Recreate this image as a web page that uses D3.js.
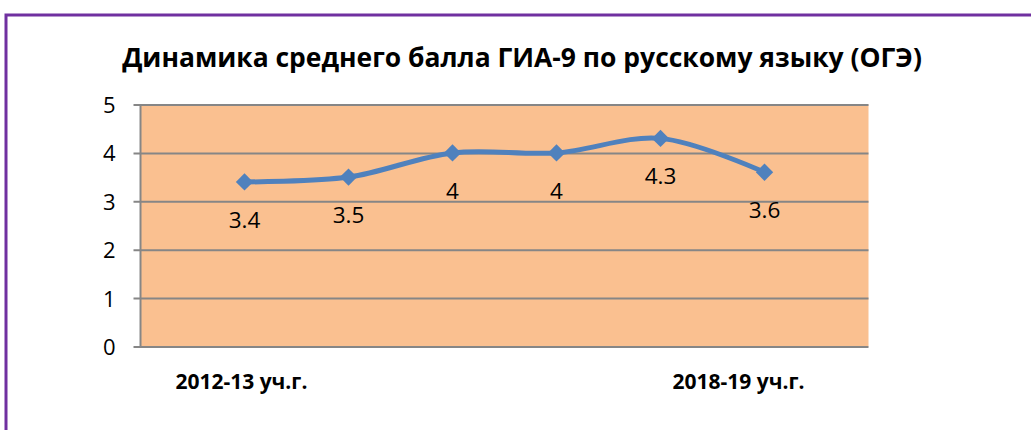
<!DOCTYPE html>
<html>
<head>
<meta charset="utf-8">
<script src="https://cdn.jsdelivr.net/npm/d3@7"></script>
<style>
  html, body { margin: 0; padding: 0; background: #ffffff; }
  svg { display: block; }
</style>
</head>
<body>
<svg id="chart" width="1031" height="430"></svg>
<script>
// ---- data ----
const title = "Динамика среднего балла ГИА-9 по русскому языку (ОГЭ)";
const years = ["2012-13", "2013-14", "2014-15", "2015-16", "2016-17", "2017-18"];
const scores = [3.4, 3.5, 4, 4, 4.3, 3.6];
const valueLabels = ["3.4", "3.5", "4", "4", "4.3", "3.6"];
const yTicks = [0, 1, 2, 3, 4, 5];
const axisLabels = ["2012-13 уч.г.", "2018-19 уч.г."];
const axisLabelSlots = [0.97, 5.75]; // slot positions along the category axis

// ---- layout ----
const svg = d3.select("#chart");
const plot = { left: 140.5, right: 868.5, top: 104.5, bottom: 346.5 };
const font = "'Open Sans', 'Noto Sans', sans-serif";

// outer purple frame (clipped by the window at right/bottom)
svg.append("rect")
  .attr("x", 6).attr("y", 15)
  .attr("width", 1100).attr("height", 600)
  .attr("fill", "none").attr("stroke", "#7030A0").attr("stroke-width", 3);

// scales
const x = d3.scaleLinear().domain([0, years.length + 1]).range([plot.left, plot.right]);
const y = d3.scaleLinear().domain([0, 5]).range([plot.bottom, plot.top]);

// plot background
svg.append("rect")
  .attr("x", plot.left).attr("y", plot.top)
  .attr("width", plot.right - plot.left).attr("height", plot.bottom - plot.top)
  .attr("fill", "#FAC090");

// grid lines + y axis
const yAxis = d3.axisLeft(y).tickValues(yTicks).tickFormat(d3.format("d"))
  .tickSize(-(plot.right - plot.left)).tickPadding(0);
const gy = svg.append("g").attr("transform", `translate(${plot.left},0)`).call(yAxis);
gy.select(".domain").remove();
gy.selectAll(".tick line").attr("stroke", "#868686").attr("stroke-width", 2)
  .attr("x1", -7);
gy.selectAll(".tick text")
  .attr("x", -25).attr("dy", "0.36em")
  .attr("font-family", font).attr("font-size", 22).attr("fill", "#000");

// vertical axis line
svg.append("line")
  .attr("x1", plot.left).attr("x2", plot.left)
  .attr("y1", plot.top).attr("y2", plot.bottom)
  .attr("stroke", "#868686").attr("stroke-width", 2);

// title
const t = svg.append("text")
  .attr("x", 522).attr("y", 67)
  .attr("text-anchor", "middle")
  .attr("font-family", font).attr("font-weight", "bold").attr("font-size", 24)
  .attr("fill", "#000").text(title);
const tl = t.node().getComputedTextLength();
t.attr("font-size", 24 * 800 / tl);

// line
const pts = scores.map((v, i) => [x(i + 1), y(v)]);
const line = d3.line().curve(d3.curveCatmullRom.alpha(0.5));
svg.append("path")
  .attr("d", line(pts))
  .attr("fill", "none").attr("stroke", "#4F81BD").attr("stroke-width", 5)
  .attr("stroke-linecap", "round").attr("stroke-linejoin", "round");

// markers (diamonds = rotated squares)
const sym = d3.symbol().type(d3.symbolSquare).size(150);
svg.selectAll(".mk").data(scores).enter().append("path")
  .attr("class", "mk")
  .attr("d", sym)
  .attr("transform", (d, i) => `translate(${x(i + 1)},${y(d)}) rotate(45)`)
  .attr("fill", "#4F81BD");

// data labels
svg.selectAll(".dl").data(scores).enter().append("text")
  .attr("class", "dl")
  .attr("x", (d, i) => x(i + 1))
  .attr("y", d => y(d) + 46)
  .attr("text-anchor", "middle")
  .attr("font-family", font).attr("font-size", 22.5).attr("fill", "#000")
  .text((d, i) => valueLabels[i]);

// category labels
svg.selectAll(".cl").data(axisLabels).enter().append("text")
  .attr("class", "cl")
  .attr("x", (d, i) => x(axisLabelSlots[i]))
  .attr("y", 389)
  .attr("text-anchor", "middle")
  .attr("font-family", font).attr("font-weight", "bold").attr("font-size", 21)
  .attr("fill", "#000")
  .text(d => d);
</script>
</body>
</html>
